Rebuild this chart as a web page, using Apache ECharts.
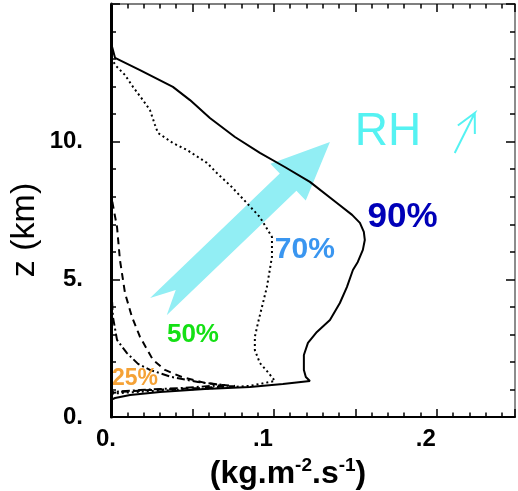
<!DOCTYPE html>
<html>
<head>
<meta charset="utf-8">
<script src="https://cdn.jsdelivr.net/npm/echarts@6.0.0/dist/echarts.min.js"></script>
<style>
  html, body { margin: 0; padding: 0; background: #fff; }
  #chart { width: 518px; height: 491px; }
</style>
</head>
<body>
<div id="chart"></div>
<script>
// water vapour flux profiles, [flux (kg.m-2.s-1), z (km)]
const curve90 = [
  [0.0000, 13.58], [0.0012, 13.33], [0.0025, 13.04], [0.0178, 12.60], [0.0380, 11.99],
  [0.0485, 11.51], [0.0607, 10.86], [0.0761, 10.17], [0.0914, 9.59], [0.1067, 9.08],
  [0.1221, 8.54], [0.1387, 7.77], [0.1480, 7.34], [0.1528, 7.05], [0.1552, 6.72],
  [0.1558, 6.43], [0.1546, 6.07], [0.1515, 5.63], [0.1485, 5.34], [0.1448, 4.72],
  [0.1405, 4.14], [0.1344, 3.52], [0.1264, 3.09], [0.1209, 2.69], [0.1184, 2.25],
  [0.1184, 1.71], [0.1196, 1.45], [0.1221, 1.31], [0.1055, 1.20], [0.0853, 1.09],
  [0.0577, 1.02], [0.0301, 0.91], [0.0117, 0.80], [0.0025, 0.69], [0.0000, 0.62]
];
const curve70 = [
  [0.0000, 13.04], [0.0031, 12.75], [0.0086, 12.42], [0.0135, 11.99], [0.0196, 11.51],
  [0.0239, 11.15], [0.0270, 10.61], [0.0288, 10.32], [0.0380, 9.95], [0.0466, 9.70],
  [0.0589, 9.23], [0.0650, 8.86], [0.0742, 8.35], [0.0834, 7.77], [0.0914, 7.26],
  [0.0988, 6.54], [0.0988, 5.81], [0.0957, 4.72], [0.0902, 3.41], [0.0883, 2.91],
  [0.0883, 2.43], [0.0914, 1.96], [0.0963, 1.63], [0.1006, 1.31], [0.0853, 1.13],
  [0.0546, 1.02], [0.0239, 0.94], [0.0055, 0.87], [0.0000, 0.84]
];
const curve50 = [
  [0.0000, 8.25], [0.0006, 7.88], [0.0037, 6.90], [0.0055, 5.70], [0.0086, 4.50],
  [0.0129, 3.63], [0.0178, 2.91], [0.0258, 2.07], [0.0331, 1.71], [0.0436, 1.45],
  [0.0577, 1.24], [0.0681, 1.16], [0.0761, 1.13], [0.0546, 1.05], [0.0239, 0.98],
  [0.0055, 0.91], [0.0000, 0.87]
];
const curve25 = [
  [0.0000, 8.25], [0.0006, 6.07], [0.0006, 4.25], [0.0012, 3.63], [0.0037, 2.80],
  [0.0098, 2.32], [0.0166, 1.93], [0.0239, 1.71], [0.0374, 1.45], [0.0534, 1.27],
  [0.0638, 1.20], [0.0700, 1.16], [0.0423, 1.05], [0.0178, 0.98], [0.0012, 0.91],
  [0.0000, 0.87]
];

const xLabels = { 0: '{a|0.}', 0.1: '{b|.1}', 0.2: '{b|.2}' };
const yLabels = { 0: '0.', 5: '5.', 10: '10.' };

// annotations
const pctText = ['90%', '70%', '50%', '25%'];
const pctPos = [[0.179, 7.26], [0.119, 6.07], [0.0503, 2.98], [0.0147, 1.38]];
const pctColor = ['#0000b8', '#3a96f0', '#14e014', '#f5a236'];
const pctSize = [35, 30, 26, 23];
const rhPos = [0.170, 10.35];
const bigArrow = [0.0291, 4.01, 0.1344, 9.99];   // tail -> tip
const smallArrow = [0.2110, 9.59, 0.2233, 11.04];

const FONT = '"Liberation Sans", Arial, Helvetica, sans-serif';
const CYAN = '#55f2f2';
const xMax = 0.248;

const chart = echarts.init(document.getElementById('chart'));

function tickStyle() { return { color: '#000', width: 1.5 }; }

function xAxisDef(pos, interval, extra) {
  return Object.assign({
    type: 'value', position: pos, min: 0, max: xMax, interval: interval, z: 10,
    splitLine: { show: false },
    axisLabel: { show: false },
    axisLine: { show: false, onZero: false },
    axisTick: { show: true, inside: true, length: interval === 0.05 ? 8 : 4.5, lineStyle: tickStyle() }
  }, extra || {});
}

function yAxisDef(pos, extra) {
  return Object.assign({
    type: 'value', position: pos, min: 0, max: 15, interval: 5, z: 10,
    splitLine: { show: false },
    axisLabel: { show: false },
    axisLine: { show: true, onZero: false, lineStyle: { color: '#666', width: 1.5 } },
    axisTick: { show: true, inside: true, length: 9, lineStyle: tickStyle() },
    minorTick: { show: true, splitNumber: 5, length: 5, lineStyle: tickStyle() }
  }, extra || {});
}

const lineSeries = (name, data, type) => ({
  name: name, type: 'line', data: data, xAxisIndex: 0, yAxisIndex: 0,
  symbol: 'none', smooth: false, z: 3,
  lineStyle: { color: '#000', width: 2, type: type }
});

chart.setOption({
  animation: false,
  backgroundColor: '#fff',
  grid: { left: 111, right: 3, top: 4, bottom: 74, containLabel: false, outerBoundsMode: 'none' },
  graphic: [{
    // y axis title
    type: 'text', x: 25, y: 230, rotation: Math.PI / 2, silent: true,
    style: { text: 'z (km)', font: '34px ' + FONT, fill: '#000', align: 'center', verticalAlign: 'middle' }
  }],
  xAxis: [
    xAxisDef('bottom', 0.05, {
      axisLine: { show: true, onZero: false, lineStyle: { color: '#000', width: 2 } },
      axisLabel: {
        show: true, margin: 10,
        fontFamily: FONT, fontSize: 24, fontWeight: 'bold', color: '#000',
        formatter: v => xLabels[Math.round(v * 100) / 100] || '',
        rich: {
          a: { fontFamily: FONT, fontSize: 24, fontWeight: 'bold', color: '#000', padding: [0, 10, 0, 0] },
          b: { fontFamily: FONT, fontSize: 24, fontWeight: 'bold', color: '#000', padding: [0, 22, 0, 0] }
        }
      },
      name: '{m|(kg.m}{s|-2}{m|.s}{s|-1}{m|)}',
      nameLocation: 'middle', nameGap: 28,
      nameTextStyle: {
        padding: [0, 50, 0, 0],
        rich: {
          m: { fontFamily: FONT, fontSize: 32, fontWeight: 'bold', color: '#000', lineHeight: 36 },
          s: { fontFamily: FONT, fontSize: 19, fontWeight: 'bold', color: '#000', verticalAlign: 'top', lineHeight: 36 }
        }
      }
    }),
    xAxisDef('bottom', 0.01),
    xAxisDef('top', 0.05, { axisLine: { show: true, onZero: false, lineStyle: { color: '#555', width: 1.5 } } }),
    xAxisDef('top', 0.01)
  ],
  yAxis: [
    yAxisDef('left', {
      axisLine: { show: true, onZero: false, lineStyle: { color: '#000', width: 3 } },
      axisLabel: {
        show: true, margin: 28, color: '#000',
        fontFamily: FONT, fontSize: 24, fontWeight: 'bold',
        formatter: v => yLabels[v] || ''
      }
    }),
    yAxisDef('right')
  ],
  series: [
    {
      // big "RH increasing" arrow, drawn under the profiles
      type: 'custom', z: 1, silent: true,
      data: [bigArrow],
      encode: { x: [0, 2], y: [1, 3] },
      renderItem: (params, api) => {
        const t = api.coord([api.value(0), api.value(1)]);
        const p = api.coord([api.value(2), api.value(3)]);
        const dx = p[0] - t[0], dy = p[1] - t[1];
        const L = Math.sqrt(dx * dx + dy * dy);
        const u = [dx / L, dy / L], n = [-u[1], u[0]];
        const w = 12, H = 25.5, h = 58, notch = 24;
        const at = (a, s) => [t[0] + u[0] * a + n[0] * s, t[1] + u[1] * a + n[1] * s];
        return {
          type: 'polygon',
          shape: { points: [at(0, w), at(L - h, w), at(L - h, H), p, at(L - h, -H), at(L - h, -w), at(0, -w), at(notch, 0)] },
          style: { fill: '#92eef4' }
        };
      }
    },
    {
      // small "↗" next to RH, one stroked path
      type: 'custom', z: 4, silent: true,
      data: [smallArrow],
      encode: { x: [0, 2], y: [1, 3] },
      renderItem: (params, api) => {
        const t = api.coord([api.value(0), api.value(1)]);
        const p = api.coord([api.value(2), api.value(3)]);
        const ang = Math.atan2(t[1] - p[1], t[0] - p[0]);
        const barb = a => [p[0] + 21 * Math.cos(ang + a), p[1] + 21 * Math.sin(ang + a)];
        return {
          type: 'polyline',
          shape: { points: [t, p, barb(0.47), p, barb(-0.47)] },
          style: { stroke: CYAN, lineWidth: 2, fill: 'none' }
        };
      }
    },
    lineSeries('90%', curve90, 'solid'),
    lineSeries('70%', curve70, [2, 3]),
    lineSeries('50%', curve50, [7, 5]),
    lineSeries('25%', curve25, [8, 3, 2, 3]),
    {
      type: 'scatter', z: 5, silent: true, symbolSize: 0,
      itemStyle: { opacity: 1 },
      data: pctText.map((txt, i) => ({
        value: pctPos[i],
        label: {
          show: true, position: 'inside', formatter: txt,
          fontFamily: FONT, fontWeight: 'bold', fontSize: pctSize[i], color: pctColor[i]
        }
      })).concat([{
        value: rhPos,
        label: { show: true, position: 'inside', formatter: 'RH', fontFamily: FONT, fontSize: 46, color: CYAN }
      }])
    }
  ]
});
</script>
</body>
</html>
